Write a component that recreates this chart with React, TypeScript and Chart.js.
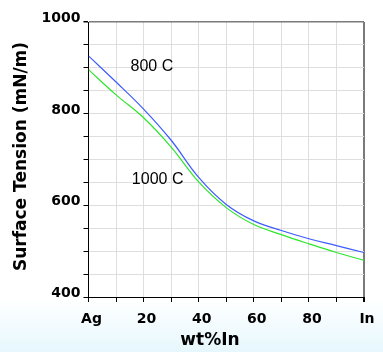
import React, { useEffect, useRef } from "react";
import { Chart, registerables } from "chart.js";

Chart.register(...registerables);

const composition = [0, 10, 20, 30, 40, 50, 60, 70, 80, 90, 100];
const tension800 = [926, 869, 810, 742, 661, 602, 566, 545, 527, 512, 497];
const tension1000 = [896, 841, 791, 727, 651, 595, 558, 536, 516, 497, 480];
const seriesNames = ["800 C", "1000 C"];
const xTitle = "wt%In";
const yTitle = "Surface Tension (mN/m)";
const xEndLabels = { start: "Ag", end: "In" };

const TITLE_FONT = "bold 17px 'DejaVu Sans'";
const NOTE_FONT = "16px 'Liberation Sans', Arial";

const textPlugin = {
  id: "textPlugin",
  afterDraw(chart: any) {
    const { ctx, chartArea, scales } = chart;
    ctx.save();
    ctx.fillStyle = "#000";
    ctx.font = TITLE_FONT;
    ctx.textAlign = "center";
    ctx.textBaseline = "middle";
    ctx.save();
    ctx.translate(21.5, (chartArea.top + chartArea.bottom) / 2 - 3);
    ctx.rotate(-Math.PI / 2);
    ctx.fillText(yTitle, 0, 0);
    ctx.restore();
    ctx.fillText(xTitle, 210, 341);
    ctx.font = NOTE_FONT;
    const notes = [
      { t: seriesNames[0], x: 23, y: 903 },
      { t: seriesNames[1], x: 25.1, y: 656 },
    ];
    for (const n of notes) {
      ctx.fillText(n.t, scales.x.getPixelForValue(n.x), scales.y.getPixelForValue(n.y));
    }
    ctx.restore();
  },
};

export default function App() {
  const ref = useRef<HTMLCanvasElement | null>(null);
  useEffect(() => {
    document.body.style.margin = "0";
    const canvas = ref.current;
    if (!canvas) return;
    const chart = new Chart(canvas, {
      type: "line",
      data: {
        labels: composition,
        datasets: [
          {
            label: seriesNames[0],
            data: composition.map((x, i) => ({ x, y: tension800[i] })),
            borderColor: "#3d5cff",
            borderWidth: 1.2,
            pointRadius: 0,
            tension: 0.4,
            fill: false,
          },
          {
            label: seriesNames[1],
            data: composition.map((x, i) => ({ x, y: tension1000[i] })),
            borderColor: "#2ee62e",
            borderWidth: 1.2,
            pointRadius: 0,
            tension: 0.4,
            fill: false,
          },
        ],
      },
      options: {
        animation: false,
        responsive: false,
        maintainAspectRatio: false,
        devicePixelRatio: 1,
        layout: { padding: { top: 22, right: 19, left: 0, bottom: 0 } },
        plugins: { legend: { display: false }, tooltip: { enabled: false } },
        scales: {
          x: {
            type: "linear",
            min: 0,
            max: 100,
            afterFit: (s: any) => {
              s.height = 55;
            },
            grid: {
              color: (c: any) => (c.tick && c.tick.value === 100 ? "#7a7a7a" : "#dedede"),
              lineWidth: (c: any) => (c.tick && c.tick.value === 100 ? 2 : 1),
              tickColor: "#000",
              tickLength: 5,
              drawTicks: true,
            },
            border: { color: "#000", width: 1 },
            ticks: {
              stepSize: 10,
              autoSkip: false,
              maxRotation: 0,
              padding: 9,
              labelOffset: 3,
              color: "#000",
              font: { family: "'DejaVu Sans'", weight: "bold", size: 14 },
              callback: (v: any) => {
                if (v === 0) return xEndLabels.start;
                if (v === 100) return xEndLabels.end;
                return v % 20 === 0 ? String(v) : "";
              },
            },
          },
          y: {
            type: "linear",
            min: 400,
            max: 1000,
            afterFit: (s: any) => {
              s.width = 88.5;
            },
            grid: {
              color: (c: any) => (c.tick && c.tick.value === 1000 ? "#7a7a7a" : "#dedede"),
              lineWidth: (c: any) => (c.tick && c.tick.value === 1000 ? 1.5 : 1),
              tickColor: "#000",
              tickLength: 5,
            },
            border: { color: "#000", width: 1 },
            ticks: {
              stepSize: 50,
              autoSkip: false,
              padding: 3,
              labelOffset: -3.5,
              color: "#000",
              font: { family: "'DejaVu Sans'", weight: "bold", size: 14 },
              callback: (v: any) => (v % 200 === 0 ? String(v) : ""),
            },
          },
        },
      },
      plugins: [textPlugin],
    });
    return () => chart.destroy();
  }, []);
  return (
    <div
      style={{
        width: 383,
        height: 352,
        background: "linear-gradient(to bottom, #ffffff 0%, #ffffff 85%, #e6f7fd 100%)",
      }}
    >
      <canvas ref={ref} width={383} height={352} style={{ display: "block", width: 383, height: 352 }} />
    </div>
  );
}
